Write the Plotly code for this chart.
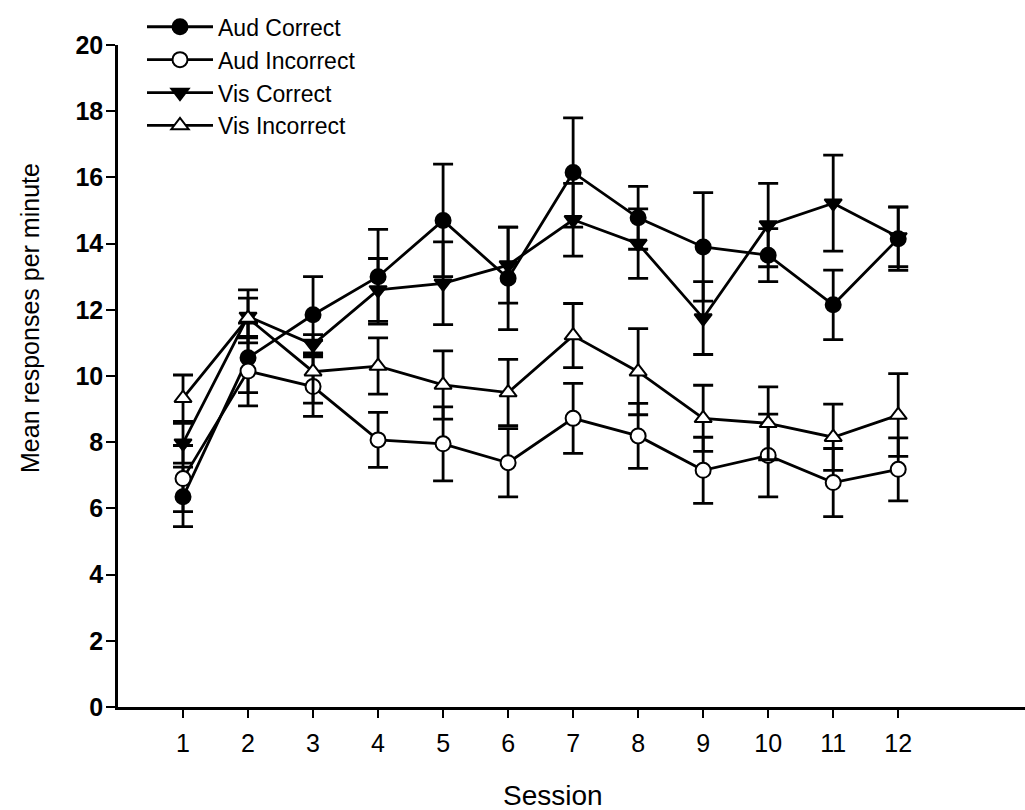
import plotly.graph_objects as go

sessions = [1, 2, 3, 4, 5, 6, 7, 8, 9, 10, 11, 12]

aud_correct = [6.35, 10.55, 11.85, 13.0, 14.7, 12.95, 16.15, 14.78, 13.9, 13.65, 12.15, 14.15]
aud_correct_err = [0.9, 1.05, 1.15, 1.43, 1.7, 1.55, 1.65, 0.95, 1.64, 0.8, 1.05, 0.96]

aud_incorrect = [6.9, 10.15, 9.68, 8.07, 7.95, 7.38, 8.72, 8.19, 7.15, 7.6, 6.78, 7.18]
aud_incorrect_err = [1.0, 1.05, 0.9, 0.83, 1.12, 1.03, 1.06, 0.98, 1.0, 1.25, 1.03, 0.95]

vis_correct = [7.97, 11.8, 10.95, 12.6, 12.8, 13.35, 14.72, 14.0, 11.75, 14.56, 15.22, 14.2]
vis_correct_err = [0.6, 0.8, 0.3, 0.95, 1.25, 1.15, 1.1, 1.05, 1.1, 1.26, 1.45, 0.9]

vis_incorrect = [9.33, 11.75, 10.13, 10.3, 9.73, 9.5, 11.22, 10.13, 8.72, 8.57, 8.15, 8.82]
vis_incorrect_err = [0.7, 0.6, 0.95, 0.85, 1.03, 1.0, 0.97, 1.3, 1.0, 1.1, 1.0, 1.25]

y_ticks = [0, 2, 4, 6, 8, 10, 12, 14, 16, 18, 20]
x_title = "Session"
y_title = "Mean responses per minute"

series = [
    ("Aud Correct", aud_correct, aud_correct_err, "circle", "black"),
    ("Aud Incorrect", aud_incorrect, aud_incorrect_err, "circle", "white"),
    ("Vis Correct", vis_correct, vis_correct_err, "triangle-down", "black"),
    ("Vis Incorrect", vis_incorrect, vis_incorrect_err, "triangle-up", "white"),
]

FONT = "Liberation Sans, Arial, sans-serif"

fig = go.Figure()
for i, (name, vals, errs, sym, fill) in enumerate(series):
    fig.add_trace(go.Scatter(
        x=sessions, y=vals, name=name, mode="lines+markers",
        legendgroup=f"g{i}",
        line=dict(color="black", width=2.8),
        marker=dict(symbol=sym, color=fill, size=15,
                    line=dict(color="black", width=2)),
        error_y=dict(type="data", array=errs, visible=True,
                     color="black", thickness=2.8, width=10),
    ))

fig.update_layout(
    width=1025, height=810,
    margin=dict(l=118, r=0, t=45, b=103),
    paper_bgcolor="white", plot_bgcolor="white",
    font=dict(family=FONT, color="black"),
    showlegend=True,
    legend=dict(
        x=(142 - 118) / 907, y=1.06, xanchor="left", yanchor="top",
        font=dict(family=FONT, size=23, color="black"),
        bgcolor="rgba(0,0,0,0)", tracegroupgap=0,
        itemwidth=66,
    ),
    annotations=[
        dict(text=y_title, xref="paper", yref="paper",
             x=(30 - 118) / 907, y=(707 - 318) / 662, xanchor="center", yanchor="middle",
             textangle=-90, showarrow=False,
             font=dict(family=FONT, size=25, color="black")),
        dict(text=x_title, xref="paper", yref="paper",
             x=(553 - 118) / 907, y=-(795 - 707) / 662, xanchor="center", yanchor="middle",
             showarrow=False,
             font=dict(family=FONT, size=28, color="black")),
    ],
)

fig.update_xaxes(
    range=[0, 13.95], tickvals=sessions, ticktext=[str(s) for s in sessions],
    showline=True, linecolor="black", linewidth=2.5,
    ticks="outside", ticklen=8, tickwidth=2, tickcolor="black",
    tickfont=dict(family=FONT, size=25, color="black"),
    ticklabelstandoff=4,
    showgrid=False, zeroline=False,
)
fig.update_yaxes(
    range=[0, 20], tickvals=y_ticks,
    showline=True, linecolor="black", linewidth=2.5,
    ticks="outside", ticklen=9, tickwidth=2, tickcolor="black",
    tickfont=dict(family=FONT, size=25, color="black", weight="bold"),
    ticklabelstandoff=-2,
    showgrid=False, zeroline=False,
)

fig.write_html("out.html")
